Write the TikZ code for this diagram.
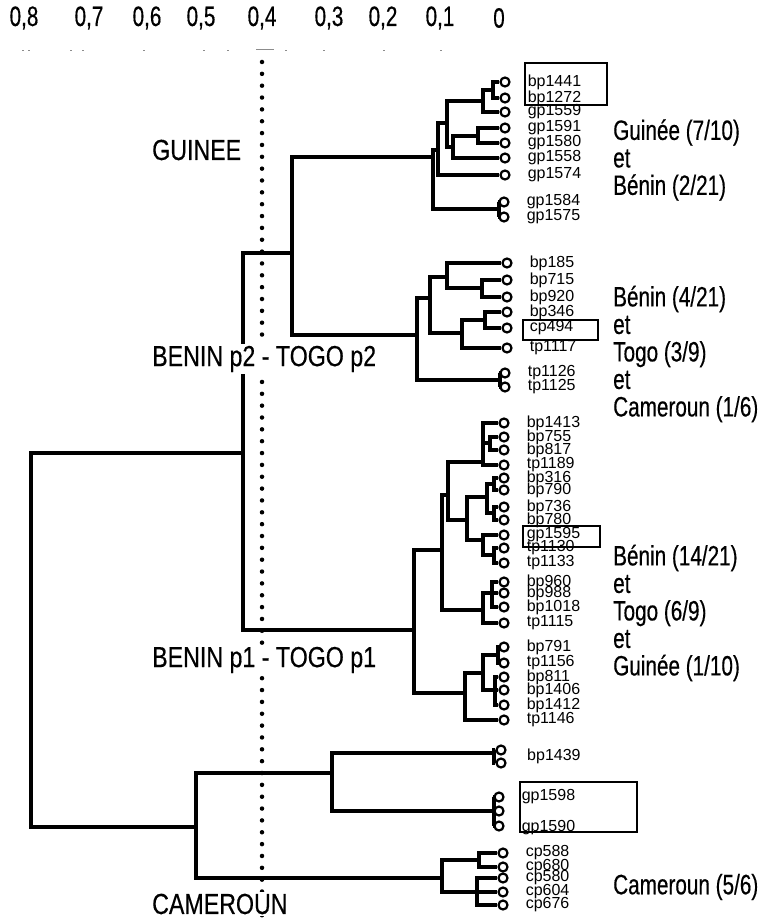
\documentclass[tikz,border=0pt]{standalone}
\usepackage{fontspec}
\setmainfont{Liberation Sans}
\newfontfamily\condfont[FakeStretch=0.74,FakeBold=0.4]{Liberation Sans}
\newfontfamily\clufont[FakeStretch=0.8,FakeBold=0.4]{Liberation Sans}
\usetikzlibrary{calc}

\begin{document}
\begin{tikzpicture}[x=1pt,y=-1pt,
  br/.style={line width=4.2pt},
  leaf/.style={circle,draw,fill=white,line width=2.2pt,minimum size=9pt,inner sep=0pt},
  tag/.style={font=\fontsize{16}{16}\selectfont,inner sep=0pt,xshift=17pt},
  axis/.style={font=\condfont\fontsize{28}{28}\selectfont,inner sep=0pt},
  clu/.style={font=\clufont\fontsize{29}{30}\selectfont,fill=white,inner sep=2pt,anchor=west},
  grp/.style={font=\condfont\fontsize{28}{27.5}\selectfont,align=left,anchor=west,inner sep=0pt},
  box/.style={draw,line width=2.2pt},
  dotline/.style={line width=4.5pt,line cap=round,dash pattern=on 0pt off 11.85pt}]
\useasboundingbox (0,0) rectangle (765,920);

\node[axis] (s8) at (24,18) {0,8};
\node[axis] (s7) at (89,18) {0,7};
\node[axis] (s6) at (147,18) {0,6};
\node[axis] (s5) at (201,18) {0,5};
\node[axis] (s4) at (262,18) {0,4};
\node[axis] (s3) at (329,18) {0,3};
\node[axis] (s2) at (383,18) {0,2};
\node[axis] (s1) at (440,18) {0,1};
\node[axis] (s0) at (499,18) {0};
\foreach \x in {22,28,70,82,143,203,227,285,323,383,440}
  \draw[black!45,line width=0.6pt] (\x,50) -- ++(1.5,0);
\draw[black!45,line width=0.6pt] (256,49) -- (274,49);

\coordinate (dtop) at (262,62);
\coordinate (dbot) at (262,922);
\draw[dotline] (dtop) -- (dbot);

% Guinee
\node[leaf,label={[tag]right:bp1441}] (bp1441) at (505,82) {};
\node[leaf,label={[tag]right:bp1272}] (bp1272) at (505,98) {};
\node[leaf,label={[tag]right:gp1559}] (gp1559) at (505,112) {};
\node[leaf,label={[tag]right:gp1591}] (gp1591) at (505,128) {};
\node[leaf,label={[tag]right:gp1580}] (gp1580) at (505,143) {};
\node[leaf,label={[tag]right:gp1558}] (gp1558) at (505,158) {};
\node[leaf,label={[tag]right:gp1574}] (gp1574) at (505,175) {};
\node[leaf,label={[tag]right:gp1584}] (gp1584) at (504,202) {};
\node[leaf,label={[tag]right:gp1575}] (gp1575) at (504,217) {};
\coordinate (g1) at (493,90);
\coordinate (g2) at (483,101);
\coordinate (g3) at (478,136);
\coordinate (g4) at (453,147);
\coordinate (g5) at (447,123);
\coordinate (g6) at (438,150);
\coordinate (g7) at (499,209);
\coordinate (g8) at (433,157);
\draw[br] (g1) |- (bp1441) (g1) |- (bp1272);
\draw[br] (g2) |- (g1) (g2) |- (gp1559);
\draw[br] (g3) |- (gp1591) (g3) |- (gp1580);
\draw[br] (g4) |- (g3) (g4) |- (gp1558);
\draw[br] (g5) |- (g2) (g5) |- (g4);
\draw[br] (g6) |- (g5) (g6) |- (gp1574);
\draw[br] (g7) |- (gp1584) (g7) |- (gp1575);
\draw[br] (g8) |- (g6) (g8) |- (g7);

% Benin p2 - Togo p2
\node[leaf,label={[tag]right:bp185}] (bp185) at (507,263) {};
\node[leaf,label={[tag]right:bp715}] (bp715) at (507,280) {};
\node[leaf,label={[tag]right:bp920}] (bp920) at (507,297) {};
\node[leaf,label={[tag]right:bp346}] (bp346) at (507,312) {};
\node[leaf,label={[tag]right:cp494}] (cp494) at (507,328) {};
\node[leaf,label={[tag]right:tp1117}] (tp1117) at (507,348) {};
\node[leaf,label={[tag]right:tp1126}] (tp1126) at (505,373) {};
\node[leaf,label={[tag]right:tp1125}] (tp1125) at (505,387) {};
\coordinate (h1) at (482,288);
\coordinate (h2) at (447,277);
\coordinate (h3) at (485,320);
\coordinate (h4) at (462,333);
\coordinate (h5) at (430,298);
\coordinate (h6) at (500,380);
\coordinate (h7) at (417,335);
\draw[br] (h1) |- (bp715) (h1) |- (bp920);
\draw[br] (h2) |- (bp185) (h2) |- (h1);
\draw[br] (h3) |- (bp346) (h3) |- (cp494);
\draw[br] (h4) |- (h3) (h4) |- (tp1117);
\draw[br] (h5) |- (h2) (h5) |- (h4);
\draw[br] (h6) |- (tp1126) (h6) |- (tp1125);
\draw[br] (h7) |- (h5) (h7) |- (h6);

% Benin p1 - Togo p1
\node[leaf,label={[tag]right:bp1413}] (bp1413) at (504,423) {};
\node[leaf,label={[tag]right:bp755}] (bp755) at (504,437) {};
\node[leaf,label={[tag]right:bp817}] (bp817) at (504,450) {};
\node[leaf,label={[tag]right:tp1189}] (tp1189) at (504,465) {};
\node[leaf,label={[tag]right:bp316}] (bp316) at (504,478) {};
\node[leaf,label={[tag]right:bp790}] (bp790) at (504,490) {};
\node[leaf,label={[tag]right:bp736}] (bp736) at (504,507) {};
\node[leaf,label={[tag]right:bp780}] (bp780) at (504,520) {};
\node[leaf,label={[tag]right:gp1595}] (gp1595) at (504,535) {};
\node[leaf,label={[tag]right:tp1130}] (tp1130) at (504,548) {};
\node[leaf,label={[tag]right:tp1133}] (tp1133) at (504,563) {};
\node[leaf,label={[tag]right:bp960}] (bp960) at (504,582) {};
\node[leaf,label={[tag]right:bp988}] (bp988) at (504,593) {};
\node[leaf,label={[tag]right:bp1018}] (bp1018) at (504,607) {};
\node[leaf,label={[tag]right:tp1115}] (tp1115) at (504,623) {};
\node[leaf,label={[tag]right:bp791}] (bp791) at (504,647) {};
\node[leaf,label={[tag]right:tp1156}] (tp1156) at (504,663) {};
\node[leaf,label={[tag]right:bp811}] (bp811) at (504,677) {};
\node[leaf,label={[tag]right:bp1406}] (bp1406) at (504,690) {};
\node[leaf,label={[tag]right:bp1412}] (bp1412) at (504,705) {};
\node[leaf,label={[tag]right:tp1146}] (tp1146) at (504,720) {};
\coordinate (q1) at (490,443);
\coordinate (q2) at (483,462);
\coordinate (q3) at (494,484);
\coordinate (q4) at (494,513);
\coordinate (q5) at (487,497);
\coordinate (q6) at (494,555);
\coordinate (q7) at (483,540);
\coordinate (q8) at (467,520);
\coordinate (q9) at (448,495);
\coordinate (q10) at (492,593);
\coordinate (q11) at (483,610);
\coordinate (q12) at (442,550);
\coordinate (r1) at (498,655);
\coordinate (r2) at (495,690);
\coordinate (r3) at (483,673);
\coordinate (r4) at (465,693);
\coordinate (p1) at (414,630);
\draw[br] (q1) |- (bp755) (q1) |- (bp817);
\draw[br] (q2) |- (bp1413) (q2) |- (q1) (q2) |- (tp1189);
\draw[br] (q3) |- (bp316) (q3) |- (bp790);
\draw[br] (q4) |- (bp736) (q4) |- (bp780);
\draw[br] (q5) |- (q3) (q5) |- (q4);
\draw[br] (q6) |- (tp1130) (q6) |- (tp1133);
\draw[br] (q7) |- (gp1595) (q7) |- (q6);
\draw[br] (q8) |- (q5) (q8) |- (q7);
\draw[br] (q9) |- (q2) (q9) |- (q8);
\draw[br] (q10) |- (bp960) (q10) |- (bp988) (q10) |- (bp1018);
\draw[br] (q11) |- (q10) (q11) |- (tp1115);
\draw[br] (q12) |- (q9) (q12) |- (q11);
\draw[br] (r1) |- (bp791) (r1) |- (tp1156);
\draw[br] (r2) |- (bp811) (r2) |- (bp1406) (r2) |- (bp1412);
\draw[br] (r3) |- (r1) (r3) |- (r2);
\draw[br] (r4) |- (r3) (r4) |- (tp1146);
\draw[br] (p1) |- (q12) (p1) |- (r4);

% Cameroun
\node[leaf] (bp1439a) at (501,750) {};
\node[leaf] (bp1439b) at (501,763) {};
\node[tag,anchor=west] (bp1439) at (510,756) {bp1439};
\node[leaf,label={[tag]right:gp1598}] (gp1598) at (499,797) {};
\node[leaf] (gp1598b) at (499,811) {};
\node[leaf,label={[tag,yshift=-2pt]right:gp1590}] (gp1590) at (499,826) {};
\node[leaf,label={[tag]right:cp588}] (cp588) at (503,853) {};
\node[leaf,label={[tag]right:cp680}] (cp680) at (503,867) {};
\node[leaf,label={[tag]right:cp580}] (cp580) at (503,878) {};
\node[leaf,label={[tag]right:cp604}] (cp604) at (503,892) {};
\node[leaf,label={[tag]right:cp676}] (cp676) at (503,905) {};
\coordinate (c1) at (494,753);
\coordinate (c2) at (494,811);
\coordinate (c3) at (332,773);
\coordinate (c4) at (479,860);
\coordinate (c5) at (477,892);
\coordinate (c6) at (442,878);
\coordinate (c0) at (196,827);
\draw[br] (c1) |- (bp1439a) (c1) |- (bp1439b);
\draw[br] (c2) |- (gp1598) (c2) |- (gp1598b) (c2) |- (gp1590);
\draw[br] (c3) |- (c1) (c3) |- (c2);
\draw[br] (c4) |- (cp588) (c4) |- (cp680);
\draw[br] (c5) |- (cp580) (c5) |- (cp604) (c5) |- (cp676);
\draw[br] (c6) |- (c4) (c6) |- (c5);
\draw[br] (c0) |- (c3) (c0) |- (c6);

% upper levels
\coordinate (t1) at (292,253);
\coordinate (u1) at (243,453);
\coordinate (root) at (31,640);
\draw[br] (t1) |- (g8) (t1) |- (h7);
\draw[br] (u1) |- (t1) (u1) |- (p1);
\draw[br] (root) |- (u1) (root) |- (c0);

\node[clu] (lguinee) at (150,150) {GUINEE};
\node[clu] (lp2) at (150,359) {BENIN p2 - TOGO p2};
\node[clu] (lp1) at (150,660) {BENIN p1 - TOGO p1};
\node[clu] (lcam) at (150,904) {CAMEROUN};

\draw[box] (525,63) rectangle (607,105);
\draw[box] (523,320) rectangle (598,340);
\draw[box] (523,526) rectangle (600,547);
\draw[box] (520,782) rectangle (637,832);

\node[grp] (ga) at (613,160) {Guinée (7/10)\\et\\Bénin (2/21)};
\node[grp] (gb) at (613,354) {Bénin (4/21)\\et\\Togo (3/9)\\et\\Cameroun (1/6)};
\node[grp] (gc) at (613,613) {Bénin (14/21)\\et\\Togo (6/9)\\et\\Guinée (1/10)};
\node[grp] (gd) at (613,887) {Cameroun (5/6)};
\end{tikzpicture}
\end{document}
